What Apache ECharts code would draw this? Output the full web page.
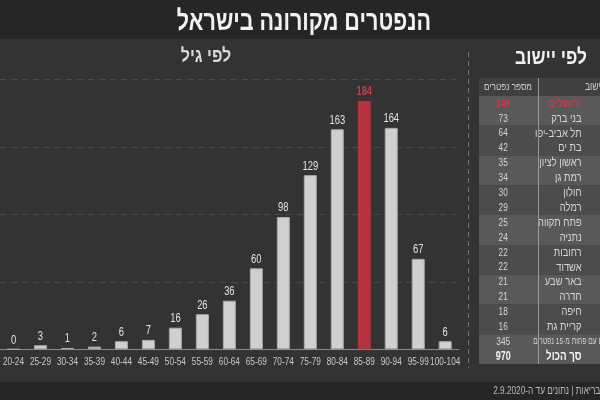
<!DOCTYPE html>
<html lang="he">
<head>
<meta charset="utf-8">
<script src="https://cdn.jsdelivr.net/npm/echarts@6/dist/echarts.min.js"></script>
<style>
html,body{margin:0;padding:0;background:#333;}
#c{width:600px;height:400px;direction:rtl;}
</style>
</head>
<body>
<div id="c"></div>
<script>
// ---- data ----
const ageGroups = ['20-24','25-29','30-34','35-39','40-44','45-49','50-54','55-59','60-64','65-69','70-74','75-79','80-84','85-89','90-94','95-99','100-104'];
const ageDeaths = [0,3,1,2,6,7,16,26,36,60,98,129,163,184,164,67,6];
const highlightAge = '85-89';
const yTicks = [0,50,100,150,200];

const towns = ['ירושלים','בני ברק','תל אביב-יפו','בת ים','ראשון לציון','רמת גן','חולון','רמלה','פתח תקווה','נתניה','רחובות','אשדוד','באר שבע','חדרה','חיפה','קריית גת','ערים עם פחות מ-15 נפטרים','סך הכול'];
const townDeaths = [149,73,64,42,35,34,30,29,25,24,22,22,21,21,18,16,345,970];
const highlightTown = 'ירושלים';
const smallRow = 'ערים עם פחות מ-15 נפטרים';
const totalRow = 'סך הכול';

const title = 'הנפטרים מקורונה בישראל';
const leftTitle = 'לפי גיל';
const rightTitle = 'לפי יישוב';
const headCount = 'מספר נפטרים';
const headTown = 'יישוב';
const footer = 'מקור: משרד הבריאות | נתונים עד ה-2.9.2020';

// ---- styles ----
const FONT = '"Liberation Sans", Arial, sans-serif';
const RED = '#b5323f';
const RED_TXT = '#c63c4c';
const GREY = '#d0d0d0';
const SX = 0.75;          // horizontal condensing of text
const COUNT_COL = 0.2;    // table column positions (fraction of table grid)
const NAME_COL = 0.848;
const NAME_COL_SMALL = 1.1;

const chart = echarts.init(document.getElementById('c'), null, {renderer:'canvas'});

function txt(x, y, text, font, fill, align, sx) {
  return {type:'text', x:x, y:y, scaleX:sx, z2:10,
    style:{text:text, font:font, fill:fill, textAlign:align, textVerticalAlign:'middle'}};
}

const option = {
  backgroundColor: '#333333',
  animation: false,
  textStyle: {fontFamily: FONT},
  graphic: [
    {type:'rect', left:0, top:0, shape:{width:600,height:39}, style:{fill:'#262626'}, z:-1},
    {type:'rect', left:0, top:382, shape:{width:600,height:18}, style:{fill:'#262626'}, z:-1},
    txt(304, 22, title, 'bold 28px '+FONT, '#f2f2f2', 'center', 0.77),
    txt(206, 57, leftTitle, 'bold 19px '+FONT, '#d8d8d8', 'center', 0.85),
    txt(551, 58, rightTitle, 'bold 21px '+FONT, '#f0f0f0', 'center', 0.83),
    {type:'line', shape:{x1:468.5,y1:52,x2:468.5,y2:368}, style:{stroke:'#757575', lineWidth:1, lineDash:[5,4]}},
    {type:'rect', left:479, top:78, shape:{width:140,height:18}, style:{fill:'#404040'}},
    txt(508, 87, headCount, '10.5px '+FONT, '#cfcfcf', 'center', 0.78),
    txt(603, 87, headTown, '11px '+FONT, '#cfcfcf', 'right', 0.78),
    {type:'line', z:10, shape:{x1:538.5,y1:78,x2:538.5,y2:364}, style:{stroke:'#9a9a9a', lineWidth:1}},
    txt(650, 391, footer, '11px '+FONT, '#b8b8b8', 'right', SX)
  ],
  grid: [
    {left:-6, right:141.3, top:79.3, bottom:50.7},
    {left:479, width:146, top:96, bottom:36}
  ],
  xAxis: [
    {gridIndex:0, type:'category', data:ageGroups,
     axisLine:{lineStyle:{color:'#8a8a8a'}}, axisTick:{show:false}, axisLabel:{show:false}},
    {gridIndex:1, type:'value', min:0, max:1, show:false}
  ],
  yAxis: [
    {gridIndex:0, type:'value', min:yTicks[0], max:yTicks[yTicks.length-1], interval:yTicks[1]-yTicks[0],
     axisLabel:{show:false}, axisLine:{show:false}, axisTick:{show:false},
     splitLine:{lineStyle:{color:'#4a4a4a', type:[6,5]}}},
    {gridIndex:1, type:'category', data:towns, inverse:true,
     axisLine:{show:false}, axisTick:{show:false}, splitLine:{show:false}, axisLabel:{show:false},
     splitArea:{show:true, areaStyle:{color:['#595959','#4c4c4c']}}}
  ],
  series: [
    {type:'bar', xAxisIndex:0, yAxisIndex:0, barWidth:13,
     data: ageDeaths.map((v,i)=>({value:v,
        itemStyle: ageGroups[i]===highlightAge ? {color:RED, borderColor:RED} : {color:GREY, borderColor:'#a8a8a8'}})),
     itemStyle:{borderWidth:1}},
    // category labels and value labels for the age chart (condensed text)
    {type:'custom', xAxisIndex:0, yAxisIndex:0, clip:false, silent:true,
     data: ageDeaths.map((v,i)=>[i, v]),
     renderItem:(params, api)=>{
       const i = params.dataIndex;
       const base = api.coord([i, 0]);
       const top = api.coord([i, api.value(1)]);
       const hi = ageGroups[i]===highlightAge;
       return {type:'group', children:[
         txt(base[0], base[1]+13, ageGroups[i], '11px '+FONT, '#c8c8c8', 'center', SX),
         txt(top[0], top[1]-9, String(ageDeaths[i]), (hi?'bold ':'')+'12.5px '+FONT, hi?RED_TXT:'#e2e2e2', 'center', SX)
       ]};
     }},
    // table cells
    {type:'custom', xAxisIndex:1, yAxisIndex:1, clip:false, silent:true,
     data: townDeaths.map((v,i)=>[COUNT_COL, i, v]),
     encode:{x:0, y:1},
     renderItem:(params, api)=>{
       const i = params.dataIndex;
       const small = towns[i]===smallRow;
       const pc = api.coord([COUNT_COL, i]);
       const pn = api.coord([small ? NAME_COL_SMALL : NAME_COL, i]);
       const hi = towns[i]===highlightTown, tot = towns[i]===totalRow;
       const col = hi ? RED_TXT : (tot ? '#f4f4f4' : '#d6d6d6');
       const fNum = (tot?'bold 12.5px ':(hi?'bold 11.5px ':'11.5px '))+FONT;
       const fName = small ? '9.5px '+FONT : (tot?'bold 12.5px ':(hi?'bold 12px ':'12px '))+FONT;
       return {type:'group', children:[
         txt(pc[0], pc[1], String(townDeaths[i]), fNum, col, 'center', 0.72),
         txt(pn[0], pn[1], towns[i], fName, col, 'right', small ? 0.7 : 0.78)
       ]};
     }}
  ]
};
chart.setOption(option);
</script>
</body>
</html>
